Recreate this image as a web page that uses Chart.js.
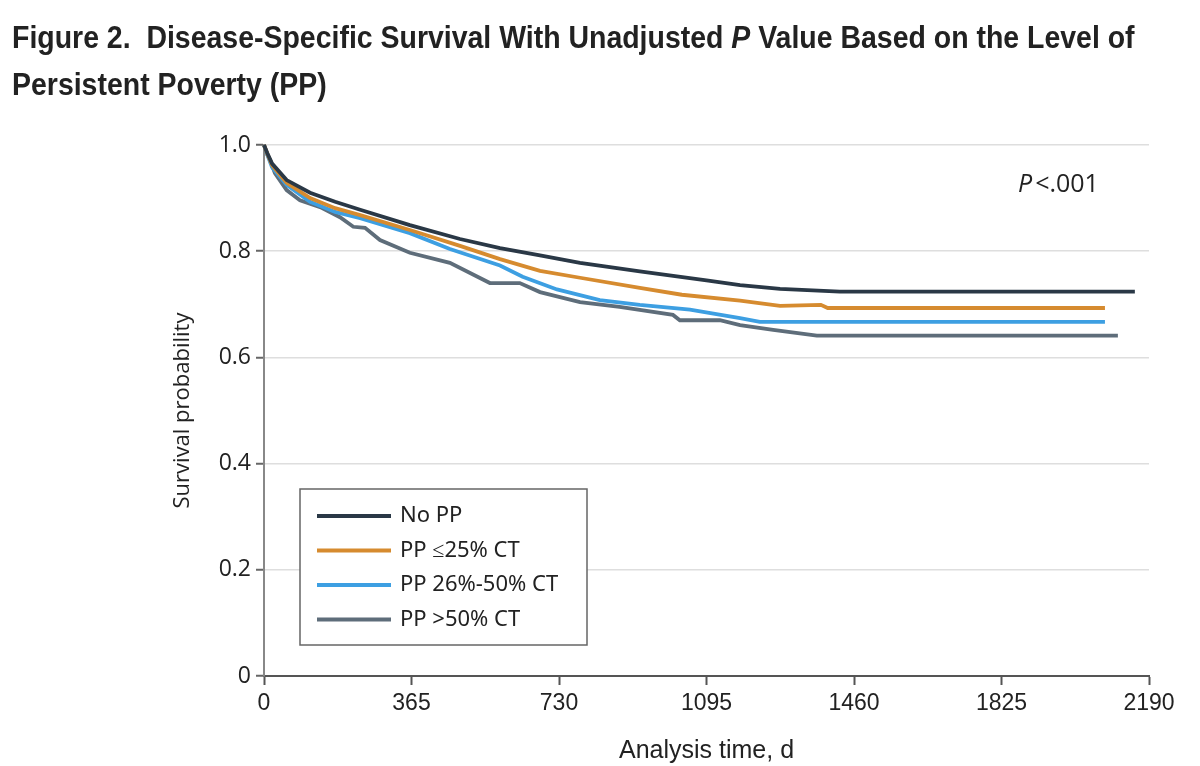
<!DOCTYPE html>
<html>
<head>
<meta charset="utf-8">
<script src="https://cdn.jsdelivr.net/npm/chart.js@4.4.1/dist/chart.umd.min.js"></script>
<style>
  html, body { margin: 0; padding: 0; background: #fff; }
  #wrap { position: relative; width: 1200px; height: 766px; }
  #title {
    position: absolute; left: 12px; top: 14px;
    font-family: "Liberation Sans", Arial, sans-serif;
    font-weight: bold; font-size: 31px; line-height: 47px; color: #222;
    white-space: nowrap; transform: scaleX(0.918); transform-origin: left top;
  }
  #chartBox { position: absolute; left: 0; top: 0; width: 1200px; height: 766px; }
</style>
</head>
<body>
<div id="wrap">
  <div id="chartBox"><canvas id="km"></canvas></div>
  <div id="title">Figure 2.&nbsp; Disease-Specific Survival With Unadjusted <i>P</i> Value Based on the Level of<br>Persistent Poverty (PP)</div>
</div>
<script>
// tick labels
var xTicks = [0, 365, 730, 1095, 1460, 1825, 2190];
var yTicks = [0, 0.2, 0.4, 0.6, 0.8, 1.0];

var labels = ["No PP", "PP \u226425% CT", "PP 26%-50% CT", "PP >50% CT"];

// survival curves (days, probability)
var noPPDays = [0, 8, 20, 56, 114, 176, 238, 361, 485, 584, 683, 782, 930, 1095, 1178, 1277, 1425, 2155];
var noPPSurv = [1.0, 0.985, 0.965, 0.934, 0.910, 0.893, 0.878, 0.849, 0.823, 0.806, 0.792, 0.778, 0.762, 0.745, 0.736, 0.729, 0.724, 0.724];

var pp25Days = [0, 8, 20, 56, 114, 176, 238, 361, 485, 584, 683, 782, 930, 1034, 1178, 1277, 1378, 1395, 2081];
var pp25Surv = [1.0, 0.984, 0.962, 0.929, 0.900, 0.881, 0.868, 0.840, 0.810, 0.785, 0.763, 0.750, 0.731, 0.718, 0.707, 0.697, 0.699, 0.693, 0.693];

var pp50Days = [0, 8, 20, 56, 114, 176, 238, 361, 460, 584, 640, 725, 831, 930, 1054, 1178, 1227, 2081];
var pp50Surv = [1.0, 0.982, 0.958, 0.925, 0.893, 0.874, 0.862, 0.834, 0.804, 0.773, 0.752, 0.728, 0.708, 0.699, 0.690, 0.674, 0.667, 0.667];

var ppOverDays = [0, 8, 15, 27, 56, 89, 139, 188, 221, 250, 287, 361, 460, 559, 633, 683, 782, 880, 1012, 1029, 1128, 1178, 1260, 1368, 2113];
var ppOverSurv = [1.0, 0.982, 0.972, 0.947, 0.915, 0.896, 0.883, 0.864, 0.846, 0.844, 0.821, 0.797, 0.778, 0.740, 0.740, 0.723, 0.704, 0.695, 0.680, 0.670, 0.670, 0.661, 0.652, 0.641, 0.641];

var navy = '#2a3846';
var orange = '#d68b2f';
var blue = '#3d9fe2';
var slate = '#5e6d7a';

function points(days, surv) {
    var out = [];
    for (var i = 0; i < days.length; i++) {
        out.push({ x: days[i], y: surv[i] });
    }
    return out;
}

function curve(label, days, surv, color) {
    return {
        label: label,
        data: points(days, surv),
        borderColor: color,
        backgroundColor: color,
        borderWidth: 3.8,
        pointRadius: 0,
        tension: 0,
        clip: 6
    };
}

// legend box drawn inside the plot, bottom left
var boxLegend = {
    id: 'boxLegend',
    afterDraw: function (chart) {
        var ctx = chart.ctx;
        var area = chart.chartArea;
        var x0 = area.left + 36;
        var y0 = area.bottom - 187;
        var w = 287, h = 156;
        ctx.save();
        ctx.fillStyle = '#fff';
        ctx.fillRect(x0, y0, w, h);
        ctx.strokeStyle = '#666';
        ctx.lineWidth = 1.5;
        ctx.strokeRect(x0, y0, w, h);
        ctx.font = '22px "Noto Sans"';
        ctx.textBaseline = 'middle';
        chart.data.datasets.forEach(function (ds, i) {
            var y = y0 + 27 + i * 34.5;
            ctx.strokeStyle = ds.borderColor;
            ctx.lineWidth = 4;
            ctx.beginPath();
            ctx.moveTo(x0 + 17, y);
            ctx.lineTo(x0 + 91, y);
            ctx.stroke();
            ctx.fillStyle = '#222';
            ctx.fillText(ds.label, x0 + 100, y);
        });
        ctx.restore();
    }
};

// P value note, top right
var pNote = {
    id: 'pNote',
    afterDraw: function (chart) {
        var ctx = chart.ctx;
        var area = chart.chartArea;
        var x = area.right - 131;
        var y = area.top + 40;
        ctx.save();
        ctx.fillStyle = '#222';
        ctx.textBaseline = 'middle';
        ctx.font = 'italic 25px "Open Sans"';
        ctx.fillText('P', x, y);
        var pw = ctx.measureText('P').width;
        ctx.font = '25px "Open Sans"';
        ctx.fillText('<.001', x + pw + 3, y);
        ctx.restore();
    }
};

Chart.defaults.font.family = '"Open Sans"';
Chart.defaults.color = '#222';

var ctx = document.getElementById('km').getContext('2d');
var chart = new Chart(ctx, {
    type: 'line',
    data: {
        datasets: [
            curve(labels[0], noPPDays, noPPSurv, navy),
            curve(labels[1], pp25Days, pp25Surv, orange),
            curve(labels[2], pp50Days, pp50Surv, blue),
            curve(labels[3], ppOverDays, ppOverSurv, slate)
        ]
    },
    options: {
        responsive: true,
        maintainAspectRatio: false,
        animation: false,
        layout: { padding: { left: 0, right: 51, top: 145, bottom: 0 } },
        plugins: {
            legend: { display: false },
            tooltip: { enabled: false }
        },
        scales: {
            x: {
                type: 'linear',
                min: xTicks[0],
                max: xTicks[xTicks.length - 1],
                afterBuildTicks: function (axis) {
                    axis.ticks = xTicks.map(function (v) { return { value: v }; });
                },
                afterFit: function (axis) { axis.height = 90; },
                ticks: {
                    font: { family: '"Liberation Sans"', size: 23 },
                    color: '#222',
                    padding: 5,
                    maxRotation: 0,
                    autoSkip: false,
                    callback: function (v) { return String(v); }
                },
                grid: { drawOnChartArea: false, drawTicks: true, tickLength: 9, tickColor: '#555', tickWidth: 2 },
                border: { color: '#555', width: 2 },
                title: {
                    display: true,
                    text: 'Analysis time, d',
                    font: { family: '"Liberation Sans"', size: 25 },
                    color: '#222',
                    padding: { top: 52, bottom: 0 }
                }
            },
            y: {
                min: 0,
                max: 1,
                afterBuildTicks: function (axis) {
                    axis.ticks = yTicks.map(function (v) { return { value: v }; });
                },
                afterFit: function (axis) { axis.width = 264; },
                ticks: {
                    font: { size: 23 },
                    color: '#222',
                    padding: 5,
                    callback: function (v) { return v === 0 ? '0' : v.toFixed(1); }
                },
                grid: { color: '#dedede', lineWidth: 1.5, tickLength: 8, tickColor: '#666', tickWidth: 2 },
                border: { color: '#888', width: 2 },
                title: {
                    display: true,
                    text: 'Survival probability',
                    font: { size: 22 },
                    color: '#222',
                    padding: { top: 170, bottom: 0 }
                }
            }
        }
    },
    plugins: [boxLegend, pNote]
});
</script>
</body>
</html>
